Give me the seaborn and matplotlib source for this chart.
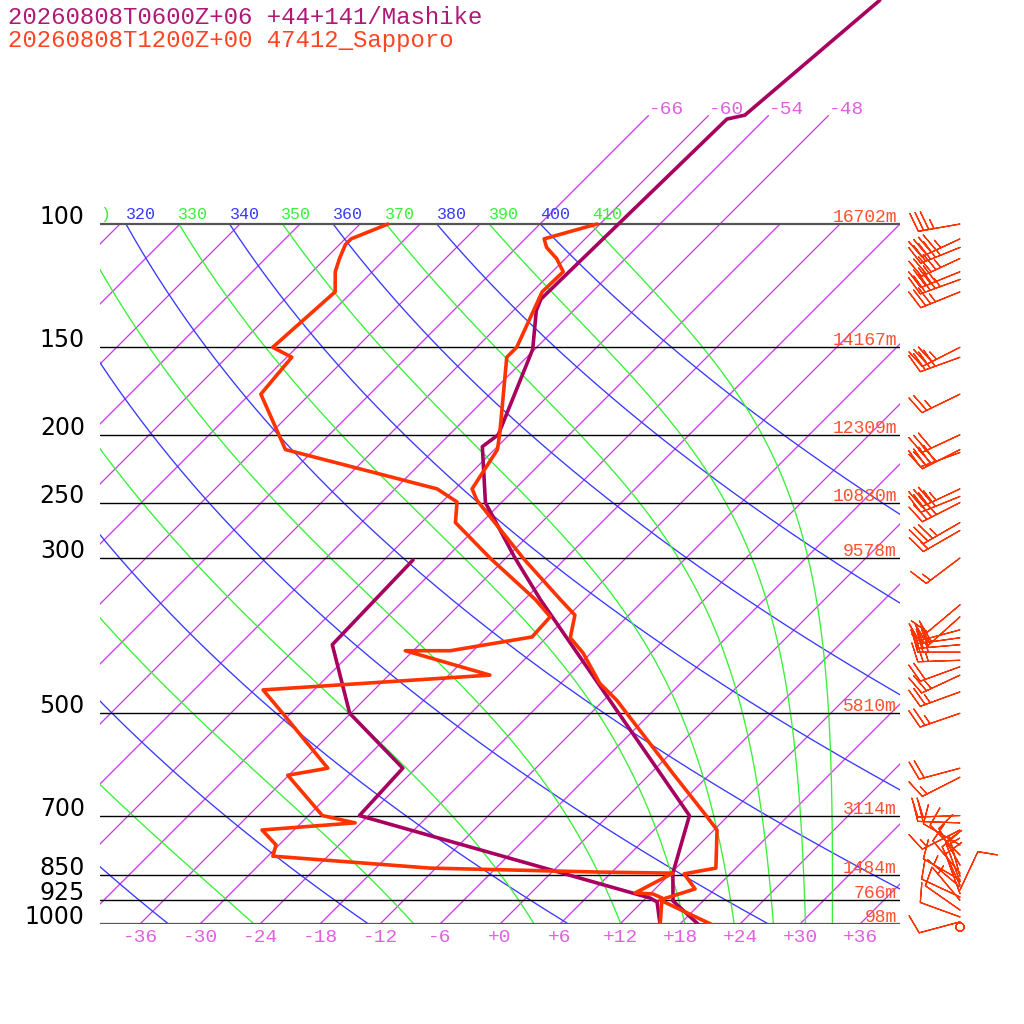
import numpy as np
import pandas as pd
import matplotlib
matplotlib.use("Agg")
import matplotlib.pyplot as plt
import seaborn as sns

sns.set_theme(style="white")
plt.rcParams['font.family'] = ['Liberation Mono', 'DejaVu Sans']

# forecast profile (Mashike), pressure hPa / temperature C
fc_p = [1000, 927, 846, 700, 479, 344, 300, 250, 208, 200, 151, 133, 128, 70.8, 69.9, 47.9]
fc_t = [19.8, 15.0, 12.2, 8.1, -11.4, -28.4, -35.1, -43.6, -49.5, -49.1, -54.2, -57.7, -58.4, -57.8, -56.4, -54.4]
fc_td_p = [1000, 930, 918, 700, 599, 500, 399, 302]
fc_td = [16.0, 13.5, 12.4, -24.9, -25.3, -36.1, -44.7, -45.1]

# observed sounding (47412 Sapporo)
obs_p = [1010, 924, 891, 848, 832, 734, 703, 609, 479, 453, 410, 390, 362, 344, 300,
         248, 239, 210, 199, 155, 150, 125, 117, 112, 108, 105, 100]
obs_t = [22.0, 13.6, 16.0, 13.4, 16.0, 12.3, 10.0, 2.2, -10.7, -14.1, -18.8, -21.6, -23.4, -26.4, -34.3,
         -44.7, -46.3, -47.7, -49.1, -56.0, -56.0, -59.0, -58.9, -60.9, -63.0, -64.1, -60.3]
obs_td_p = [1010, 918, 906, 903, 846, 843, 832, 800, 771, 734, 717, 700, 613, 599, 500, 463, 441,
            407, 407, 389, 364, 344, 300, 267, 249.5, 239, 210, 175, 155, 150, 125, 117, 112, 107, 105, 100]
obs_td = [16.3, 13.6, 12.3, 10.4, 12.2, 4.8, -12.6, -29.5, -30.3, -33.2, -24.6, -28.6, -36.1, -32.8, -42.8, -47.1, -25.9,
          -36.8, -32.3, -25.5, -25.7, -28.9, -37.6, -44.6, -46.5, -49.8, -68.9, -76.9, -77.5, -80.4, -79.7, -81.7, -82.6, -83.4, -83.4, -81.2]

# standard levels and their heights
levels = [1000, 925, 850, 700, 500, 300, 250, 200, 150, 100]
level_labels = ["1000", "925", "850", "700", "500", "300", "250", "200", "150", "100"]
heights = ["98m", "766m", "1484m", "3114m", "5810m", "9578m", "10830m", "12309m", "14167m", "16702m"]

# observed winds: pressure, direction (deg), speed (kt)
wind_p = [100, 105, 108, 112, 117, 120, 125, 150, 155, 175, 200, 210, 212, 239, 245, 250, 267, 274,
          300, 350, 364, 380, 390, 399, 409, 420, 429, 441, 466, 500, 599, 617, 700, 717, 734,
          771, 797, 824, 846, 855, 865, 870, 880, 885, 894, 905, 915, 925, 955, 977, 993, 1010]
wind_dir = [260, 245, 248, 245, 248, 250, 248, 243, 250, 244, 245, 243, 250, 245, 248, 243, 240, 240,
            233, 230, 228, 255, 262, 265, 270, 268, 250, 245, 250, 251, 255, 243, 268, 272, 243,
            300, 315, 330, 320, 345, 300, 340, 335, 310, 25, 340, 295, 320, 305, 290, 255, 0]
wind_spd = [35, 45, 45, 45, 40, 45, 35, 35, 40, 25, 30, 40, 40, 35, 40, 40, 35, 15,
            15, 10, 15, 30, 30, 30, 25, 25, 20, 25, 25, 25, 20, 15, 20, 20, 15,
            10, 10, 10, 10, 5, 10, 10, 10, 5, 10, 10, 10, 5, 10, 10, 10, 0]

isotherms = list(range(-108, 37, 6))
top_isotherms = [-66, -60, -54, -48]
dry_thetas = list(range(200, 401, 20))
moist_thetas = list(range(210, 411, 20))
bottom_ticks = list(range(-36, 37, 6))

SKEW = 30.4
P_TOP = 1000 * np.exp(-924 / 304)

PURPLE = "#a8005f"
RED = "#ff3300"
ISO = "#cc3cee"
ISO_TXT = "#e060e0"
BLUE = "#3838ff"
GREEN = "#38f038"


def skx(t, p):
    return np.asarray(t, dtype=float) + SKEW * np.log(1000.0 / np.asarray(p, dtype=float))


def theta_e_sat(tk, p):
    tc = tk - 273.15
    es = 6.112 * np.exp(17.67 * tc / (tc + 243.5))
    r = 622.0 * es / np.maximum(p - es, 1e-3)
    th = tk * (1000.0 / p) ** (0.2854 * (1 - 0.00028 * r)) * np.exp((3.376 / tk - 0.00254) * r * (1 + 0.00081 * r))
    return np.where(es < 0.5 * p, th, 1e4)


def moist_adiabat(the, p):
    lo = np.full_like(p, 120.0)
    hi = np.full_like(p, 335.0)
    for _ in range(60):
        mid = 0.5 * (lo + hi)
        big = theta_e_sat(mid, p) > the
        hi = np.where(big, mid, hi)
        lo = np.where(big, lo, mid)
    return 0.5 * (lo + hi) - 273.15


fig = plt.figure(figsize=(10.24, 10.24), dpi=100, facecolor="white")
ax = fig.add_axes([100 / 1024, 100 / 1024, 800 / 1024, 924 / 1024])
ax.set_yscale("log")

pp = np.geomspace(1000, 100, 300)

# isotherms
for t0 in isotherms:
    ptop = 70 if t0 in top_isotherms else 100
    pl = np.array([1000, ptop])
    ax.plot(skx([t0, t0], pl), pl, color=ISO, lw=0.95, zorder=1)
for t0 in top_isotherms:
    ax.text(skx(t0, 70), 70 * np.exp(-2 / 304), str(t0), color=ISO_TXT, fontsize=14,
            ha="left", va="baseline")

# dry adiabats
for th in dry_thetas:
    tt = th * (pp / 1000) ** 0.2857 - 273.15
    ax.plot(skx(tt, pp), pp, color=BLUE, lw=0.95, zorder=1)

# moist adiabats
for th in moist_thetas:
    tt = moist_adiabat(th, pp)
    ax.plot(skx(tt, pp), pp, color=GREEN, lw=0.95, zorder=1)

# adiabat labels at 100 hPa (the leftmost one is cut by the frame, as in the original)
for th in range(310, 411, 10):
    t100 = th * 0.1 ** 0.2857 - 273.15
    col = GREEN if th in moist_thetas else BLUE
    lab = ")" if th == 310 else str(th)
    xx = -40 if th == 310 else skx(t100, 100)
    ax.text(xx, 100 * np.exp(-5 / 304), lab, color=col, fontsize=12,
            ha="left", va="baseline", clip_on=True)

# pressure levels
for lev, lab, hgt in zip(levels, level_labels, heights):
    edge = lev in (100, 1000)
    ax.plot([-40, 40], [lev, lev], color="#555555" if edge else "black",
            lw=1.6 if edge else 1.0, zorder=2)
    ax.text(-0.019, lev, lab, transform=ax.get_yaxis_transform(), ha="right", va="baseline",
            fontsize=17, family="DejaVu Sans", color="black")
    ax.text(0.996, lev * np.exp(-2 / 304), hgt, transform=ax.get_yaxis_transform(), ha="right",
            va="baseline", fontsize=13, color="#ff5030")

# bottom temperature labels
for t0 in bottom_ticks:
    lab = "+0" if t0 == 0 else ("%+d" % t0)
    ax.text(t0, 1000 * np.exp(5 / 304), lab, ha="center", va="top", fontsize=14, color=ISO_TXT)

# profiles
df_fc = pd.DataFrame({"x": skx(fc_t, fc_p), "p": fc_p})
df_fcd = pd.DataFrame({"x": skx(fc_td, fc_td_p), "p": fc_td_p})
df_obs = pd.DataFrame({"x": skx(obs_t, obs_p), "p": obs_p})
df_obsd = pd.DataFrame({"x": skx(obs_td, obs_td_p), "p": obs_td_p})
for d, c in [(df_fc, PURPLE), (df_fcd, PURPLE), (df_obs, RED), (df_obsd, RED)]:
    sns.lineplot(data=d, x="x", y="p", sort=False, estimator=None, color=c, lw=2.6, ax=ax,
                 zorder=5)

# wind barbs
wd = np.radians(wind_dir)
ws = np.array(wind_spd, dtype=float)
u = -ws * np.sin(wd)
v = -ws * np.cos(wd)
ax.barbs(np.full(len(wind_p), 46.0), wind_p, u, v, length=7.8, color=RED, linewidth=0.9,
         clip_on=False, sizes=dict(emptybarb=0.1, height=0.45), zorder=6)

ax.set_xlim(-40, 40)
ax.set_ylim(1000, P_TOP)
ax.axis("off")

fig.text(8 / 1024, 1 - 17 / 1024, "20260808T0600Z+06 +44+141/Mashike", color="#b01878",
         fontsize=17.3, ha="left", va="center")
fig.text(8 / 1024, 1 - 41 / 1024, "20260808T1200Z+00 47412_Sapporo", color="#ff4422",
         fontsize=17.3, ha="left", va="center")

fig.savefig("out.png", dpi=100, facecolor="white")
